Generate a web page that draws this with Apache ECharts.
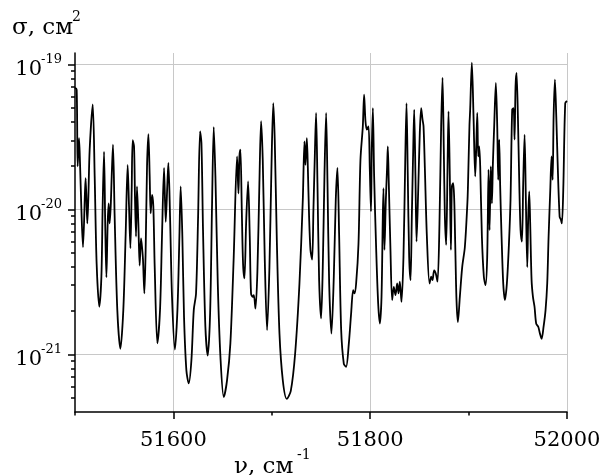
<!DOCTYPE html>
<html><head><meta charset="utf-8">
<script src="https://cdn.jsdelivr.net/npm/echarts@6/dist/echarts.min.js"></script>
<style>html,body{margin:0;padding:0;background:#fff}#c{width:601px;height:475px}</style>
</head><body><div id="c"></div>
<script>
const nu = [
51500,51501.7,51502.7,51504.1,51505.1,51506.4,51508.1,51510.2,51510.8,51512.5,51513.6,51514.9,51518.0,51520.0,51522.0,51524.7,51526.8,51528.1,51529.5,51530.8,
51531.9,51533.2,51534.2,51535.2,51536.3,51537.3,51538.6,51540.3,51543.0,51546.1,51549.1,51551.5,51553.5,51554.9,51556.3,51557.6,51558.6,51560.0,51561.0,51562.0,
51563.0,51564.4,51565.7,51567.1,51568.1,51569.1,51570.5,51571.8,51573.2,51574.6,51575.9,51576.9,51578.3,51579.6,51581.0,51583.7,51586.4,51588.4,51590.5,51592.2,
51593.9,51594.9,51596.6,51598.6,51601.5,51604.1,51606.1,51607.4,51609.1,51610.8,51613.2,51615.6,51618.3,51620.7,51623.0,51625.1,51627.1,51628.5,51630.1,51632.5,
51634.9,51637.3,51639.3,51641.0,51642.7,51645.1,51647.8,51651.2,51654.5,51657.9,51661.3,51664.7,51666.1,51667.1,51668.1,51669.5,51670.8,51672.2,51673.9,51675.9,
51677.6,51678.9,51680.6,51681.7,51683.4,51685.4,51687.4,51689.1,51690.8,51692.8,51695.2,51697.6,51699.6,51701.5,51703.0,51705.1,51707.8,51711.2,51715.2,51719.3,
51723.7,51728.1,51731.5,51733.2,51734.2,51735.6,51736.6,51737.9,51739.3,51741.0,51742.3,51743.7,51745.0,51746.4,51748.1,51750.1,51751.8,51753.5,51755.2,51756.6,
51758.3,51760.6,51763.0,51765.0,51766.7,51768.4,51770.5,51773.2,51775.5,51778.3,51780.6,51782.7,51784.0,51785.7,51788.1,51790.1,51792.5,51793.8,51795.2,51796.6,
51798.3,51799.6,51800.8,51801.6,51802.7,51804.0,51806.1,51808.1,51809.8,51811.5,51812.8,51813.5,51814.5,51815.9,51817.2,51817.9,51818.9,51820.6,51822.3,51824.0,
51825.7,51827.4,51828.8,51830.1,51831.8,51833.8,51835.5,51836.9,51838.2,51839.6,51841.0,51842.3,51843.7,51844.7,51846.0,51847.1,51848.8,51850.4,51851.8,51853.2,
51854.2,51855.5,51857.6,51860.3,51862.0,51863.3,51865.0,51866.7,51868.4,51870.4,51872.1,51873.5,51874.8,51875.9,51877.2,51878.6,51879.6,51880.9,51882.0,51883.0,
51884.3,51885.4,51886.4,51887.7,51889.1,51891.1,51893.5,51896.2,51898.9,51899.6,51900.9,51901.6,51903.3,51905.0,51906.7,51907.7,51908.8,51909.8,51910.8,51911.8,
51913.5,51915.5,51917.2,51918.9,51920.3,51921.3,51922.6,51923.7,51924.7,51926.0,51927.7,51929.1,51930.1,51931.1,51932.1,51933.5,51935.2,51936.9,51938.9,51941.0,
51942.6,51944.3,51945.7,51946.7,51947.7,51948.7,51950.1,51951.5,51952.8,51954.2,51955.5,51956.9,51958.2,51959.6,51960.6,51961.6,51962.6,51964.0,51965.4,51967.0,
51968.7,51970.8,51972.5,51974.2,51976.2,51978.2,51979.9,51981.3,51983.0,51984.3,51985.4,51986.4,51987.7,51989.1,51990.4,51992.5,51993.8,51994.8,51996.2,51998.2,
52000
];
const sigma = [
6.9e-20,6.7e-20,1.98e-20,3.1e-20,2.09e-20,1.05e-20,5.5e-21,1.36e-20,1.64e-20,8.0e-21,1.23e-20,2.58e-20,5.3e-20,1.69e-20,4.2e-21,2.13e-21,3.4e-21,1.05e-20,2.5e-20,7.2e-21,
3.4e-21,8.0e-21,1.10e-20,8.0e-21,1.05e-20,1.69e-20,2.8e-20,8.9e-21,2.02e-21,1.09e-21,2.02e-21,6.8e-21,2.03e-20,1.05e-20,5.4e-21,1.36e-20,3.0e-20,2.72e-20,1.16e-20,6.5e-21,
1.44e-20,8.0e-21,4.1e-21,6.3e-21,5.5e-21,4.5e-21,2.63e-21,5.25e-21,1.98e-20,3.3e-20,1.69e-20,9.4e-21,1.26e-20,1.05e-20,4.0e-21,1.19e-21,2.02e-21,6.5e-21,1.93e-20,8.2e-21,
1.52e-20,2.09e-20,8.9e-21,2.49e-21,1.08e-21,2.02e-21,6.5e-21,1.44e-20,6.5e-21,1.81e-21,7.75e-22,6.3e-22,9.1e-22,2.02e-21,2.63e-21,8.9e-21,3.46e-20,2.87e-20,7.2e-21,1.55e-21,
9.8e-22,1.91e-21,1.10e-20,3.7e-20,1.69e-20,3.08e-21,9.6e-22,5.07e-22,6.6e-22,1.19e-21,4.7e-21,2.32e-20,1.29e-20,2.32e-20,2.58e-20,9.9e-21,4.2e-21,3.34e-21,8.0e-21,1.56e-20,
6.5e-21,2.63e-21,2.49e-21,2.56e-21,2.07e-21,3.8e-21,1.52e-20,4.06e-20,2.2e-20,4.7e-21,1.47e-21,4.0e-21,1.88e-20,5.4e-20,3.0e-20,6.15e-21,1.39e-21,6.6e-22,4.93e-22,5.6e-22,
1.01e-21,3.08e-21,1.16e-20,2.95e-20,2.03e-20,3.1e-20,1.98e-20,8.9e-21,5.25e-21,4.5e-21,9.9e-21,2.32e-20,4.63e-20,1.52e-20,3.25e-21,1.77e-21,4.0e-21,1.69e-20,4.63e-20,1.52e-20,
3.08e-21,1.39e-21,3.4e-21,1.16e-20,1.93e-20,6.8e-21,1.47e-21,8.6e-22,8.2e-22,1.19e-21,1.91e-21,2.77e-21,2.63e-21,3.08e-21,5.8e-21,2.2e-20,3.74e-20,6.2e-20,4.06e-20,3.55e-20,
3.74e-20,1.88e-20,9.7e-21,2.58e-20,5.0e-20,1.69e-20,5.25e-21,2.24e-21,1.63e-21,2.49e-21,8.9e-21,1.40e-20,5.25e-21,1.16e-20,1.98e-20,2.72e-20,1.52e-20,5.25e-21,2.37e-21,2.92e-21,
2.56e-21,3.08e-21,2.63e-21,3.17e-21,2.3e-21,4.7e-21,1.98e-20,5.4e-20,1.69e-20,4.7e-21,3.25e-21,8.9e-21,2.58e-20,4.88e-20,1.69e-20,6.0e-21,1.36e-20,3.37e-20,5.0e-20,4.16e-20,
3.74e-20,1.98e-20,6.5e-21,3.08e-21,3.43e-21,3.25e-21,3.8e-21,3.6e-21,3.17e-21,8.0e-21,3.74e-20,8.1e-20,2.58e-20,8.9e-21,5.7e-21,1.98e-20,4.75e-20,1.69e-20,5.25e-21,1.44e-20,
1.52e-20,1.16e-20,5.8e-21,2.37e-21,1.67e-21,2.49e-21,4.0e-21,5.5e-21,1.16e-20,1.69e-20,3.84e-20,4.88e-20,1.03e-19,4.39e-20,1.69e-20,2.58e-20,4.63e-20,2.32e-20,2.72e-20,1.98e-20,
6.5e-21,3.43e-21,3.0e-21,4.7e-21,1.88e-20,7.2e-21,1.98e-20,1.10e-20,2.09e-20,3.74e-20,7.47e-20,3.74e-20,1.60e-20,3.03e-20,1.44e-20,6.5e-21,3.08e-21,2.37e-21,3.08e-21,5.8e-21,
1.16e-20,4.88e-20,5.0e-20,3.03e-20,7.08e-20,8.76e-20,4.39e-20,1.52e-20,7.2e-21,6.0e-21,1.52e-20,3.28e-20,1.16e-20,4.0e-21,8.9e-21,1.33e-20,8.0e-21,3.25e-21,2.49e-21,2.13e-21,
1.63e-21,1.55e-21,1.39e-21,1.28e-21,1.55e-21,2.02e-21,3.08e-21,6.5e-21,1.36e-20,2.32e-20,1.60e-20,4.39e-20,7.87e-20,4.39e-20,2.2e-20,8.9e-21,8.5e-21,8.0e-21,1.36e-20,5.4e-20,
5.6e-20
];
const xMajorTicks = [51600, 51800, 52000];
const xMinorTicks = [51500, 51700, 51900];
const yMajorTicks = [1e-21, 1e-20, 1e-19];
const yMinorTicks = [5e-22,6e-22,7e-22,8e-22,9e-22,2e-21,3e-21,4e-21,5e-21,6e-21,7e-21,8e-21,9e-21,
  2e-20,3e-20,4e-20,5e-20,6e-20,7e-20,8e-20,9e-20];
const yName = 'σ, см', yNameSup = '2';
const xName = 'ν, см', xNameSup = '-1';

const FF = 'DejaVu Serif';
const chart = echarts.init(document.getElementById('c'), null, {renderer: 'canvas'});
const data = nu.map((v, i) => [v, sigma[i]]);
const axLine = {show: true, onZero: false, lineStyle: {color: '#000', width: 1.5}};
const nameStyle = (fs) => ({fontFamily: FF, fontSize: fs, lineHeight: fs, fontWeight: 'normal', color: '#000'});
const yBase = {type: 'log', logBase: 10, min: 4e-22, max: 1.2e-19, position: 'left', offset: 0};
chart.setOption({
  animation: false,
  backgroundColor: '#fff',
  title: [
    {text: yName, left: 12, top: 17, padding: 0, textStyle: nameStyle(23)},
    {text: yNameSup, left: 72, top: 10, padding: 0, textStyle: nameStyle(14)},
    {text: xName, left: 234, top: 456, padding: 0, textStyle: nameStyle(23)},
    {text: xNameSup, left: 297, top: 448, padding: 0, textStyle: nameStyle(14)}
  ],
  grid: {left: 75, right: 34, top: 53, bottom: 63, containLabel: false, outerBoundsMode: 'none'},
  xAxis: [
    {type: 'value', min: 51500, max: 52000, interval: 100, position: 'bottom',
      axisLine: axLine,
      axisTick: {show: true, customValues: xMajorTicks, length: 7, lineStyle: {color: '#000', width: 1.5}},
      axisLabel: {customValues: xMajorTicks, formatter: v => String(v), fontFamily: FF, fontSize: 21, lineHeight: 21, color: '#000', margin: 18},
      splitLine: {show: true, lineStyle: {color: '#c8c8c8', width: 1}}},
    {type: 'value', min: 51500, max: 52000, interval: 100, position: 'bottom',
      axisLine: {show: false, onZero: false},
      axisTick: {show: true, customValues: xMinorTicks, length: 3.5, lineStyle: {color: '#000', width: 1.5}},
      axisLabel: {show: false}, splitLine: {show: false}}
  ],
  yAxis: [
    Object.assign({}, yBase, {
      axisLine: axLine,
      axisTick: {show: true, customValues: yMajorTicks, length: 7, lineStyle: {color: '#000', width: 1.5}},
      axisLabel: {customValues: yMajorTicks, margin: 33, color: '#000', fontFamily: FF, fontSize: 21,
        lineHeight: 10, verticalAlign: 'top', formatter: () => '10'},
      splitLine: {show: true, lineStyle: {color: '#c8c8c8', width: 1}}}),
    Object.assign({}, yBase, {
      axisLine: {show: false, onZero: false},
      axisTick: {show: true, customValues: yMinorTicks, length: 4, lineStyle: {color: '#000', width: 1.5}},
      axisLabel: {show: false}, splitLine: {show: false}}),
    Object.assign({}, yBase, {
      axisLine: {show: false, onZero: false},
      axisTick: {show: false},
      axisLabel: {customValues: yMajorTicks, margin: 13, color: '#000', fontFamily: FF, fontSize: 13,
        lineHeight: 9, verticalAlign: 'bottom', formatter: v => String(Math.round(Math.log10(v)))},
      splitLine: {show: false}})
  ],
  series: [{
    type: 'line', xAxisIndex: 0, yAxisIndex: 0, data: data,
    showSymbol: false, smooth: 0.3, clip: true,
    lineStyle: {color: '#000', width: 1.8}
  }]
});
</script></body></html>
